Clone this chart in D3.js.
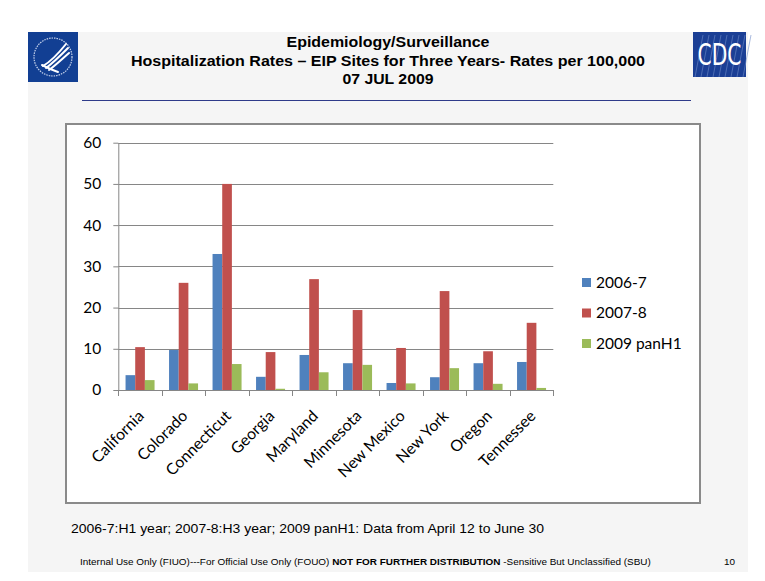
<!DOCTYPE html>
<html>
<head>
<meta charset="utf-8">
<script src="https://cdn.jsdelivr.net/npm/d3@7"></script>
<style>
  html, body { margin: 0; padding: 0; background: #ffffff; }
  svg { display: block; }
</style>
</head>
<body>
<svg id="chart" width="765" height="581"></svg>
<script>
// ---- data ----
const categories = ["California", "Colorado", "Connecticut", "Georgia", "Maryland",
                    "Minnesota", "New Mexico", "New York", "Oregon", "Tennessee"];
const seriesNames = ["2006-7", "2007-8", "2009 panH1"];
const values2006_7 = [3.6, 9.7, 33.0, 3.2, 8.5, 6.5, 1.7, 3.1, 6.5, 6.8];
const values2007_8 = [10.4, 26.0, 50.0, 9.2, 26.9, 19.4, 10.2, 24.0, 9.4, 16.3];
const values2009_panH1 = [2.4, 1.6, 6.3, 0.3, 4.3, 6.1, 1.6, 5.3, 1.5, 0.5];
const yTickValues = [0, 10, 20, 30, 40, 50, 60];
const titleLines = ["Epidemiology/Surveillance",
                    "Hospitalization Rates \u2013 EIP Sites for Three Years- Rates per 100,000",
                    "07 JUL 2009"];
const footnote = "2006-7:H1 year; 2007-8:H3 year; 2009 panH1: Data from April 12 to June 30";

const seriesValues = [values2006_7, values2007_8, values2009_panH1];
const colors = ["#4F81BD", "#C0504D", "#9BBB59"];

const svg = d3.select("#chart");

// ---- slide background ----
svg.append("rect").attr("x", 28).attr("y", 32).attr("width", 720).attr("height", 540)
  .attr("fill", "#f5f5f5");

// HHS logo (left)
const hhs = svg.append("g").attr("transform", "translate(28,32)");
hhs.append("rect").attr("width", 50).attr("height", 50).attr("fill", "#123f93");
hhs.append("circle").attr("cx", 25).attr("cy", 25).attr("r", 19)
  .attr("fill", "none").attr("stroke", "#c8d4ec").attr("stroke-width", 1.2)
  .attr("stroke-dasharray", "1.5,1");
const wing = ["M15,34 C22,30 30,22 38,12", "M18,36 C25,31 32,24 40,16", "M21,38 C28,33 34,27 41,21",
              "M14,33 C18,35 24,38 30,40"];
hhs.selectAll("path.w").data(wing).join("path").attr("d", d => d)
  .attr("fill", "none").attr("stroke", "#ffffff").attr("stroke-width", 2).attr("stroke-linecap", "round");

// CDC logo (right)
const cdc = svg.append("g").attr("transform", "translate(693,32)");
cdc.append("rect").attr("width", 53).attr("height", 45).attr("fill", "#1b3f95");
const rays = d3.range(0, 9);
cdc.selectAll("line.r").data(rays).join("line")
  .attr("x1", d => 2 + d * 6).attr("y1", 45)
  .attr("x2", d => 10 + d * 6).attr("y2", 3)
  .attr("stroke", "#6f8cc8").attr("stroke-width", 0.6);
cdc.append("text").attr("x", 26.5).attr("y", 33).attr("text-anchor", "middle")
  .attr("font-family", "'Liberation Sans Narrow', 'DejaVu Sans Condensed', sans-serif")
  .attr("font-size", 31).attr("fill", "#ffffff").attr("textLength", 44)
  .attr("lengthAdjust", "spacingAndGlyphs").text("CDC");

// Title
const titleWidths = [203, 514, 91];
const titleBase = [47, 66, 84];
svg.selectAll("text.title").data(titleLines).join("text").attr("class", "title")
  .attr("x", 388).attr("y", (d, i) => titleBase[i]).attr("text-anchor", "middle")
  .attr("font-family", "'Liberation Sans', Arial, sans-serif").attr("font-weight", "bold")
  .attr("font-size", 14).attr("fill", "#000")
  .attr("textLength", (d, i) => titleWidths[i]).attr("lengthAdjust", "spacingAndGlyphs")
  .text(d => d);

svg.append("line").attr("x1", 82).attr("x2", 691).attr("y1", 100.5).attr("y2", 100.5)
  .attr("stroke", "#2f3b8a").attr("stroke-width", 1.2);

// chart box
svg.append("rect").attr("x", 66).attr("y", 124).attr("width", 634).attr("height", 379)
  .attr("fill", "#ffffff").attr("stroke", "#8a8a8a").attr("stroke-width", 2);

// ---- plot ----
const x0 = 118.3, x1 = 553.3, yTop = 142.7, yBot = 390;
const x = d3.scaleBand().domain(categories).range([x0, x1]).paddingInner(0).paddingOuter(0);
const xs = d3.scaleBand().domain(seriesNames).range([0, x.bandwidth()]).paddingInner(0).paddingOuter(0.75);
const y = d3.scaleLinear().domain([0, 60]).range([yBot, yTop]);
const color = d3.scaleOrdinal().domain(seriesNames).range(colors);

const font = "Lato, 'Open Sans', sans-serif";

// gridlines
svg.append("g").selectAll("line").data(yTickValues.filter(v => v > 0)).join("line")
  .attr("x1", x0).attr("x2", x1).attr("y1", d => Math.round(y(d)) + 0.5).attr("y2", d => Math.round(y(d)) + 0.5)
  .attr("stroke", "#868686").attr("stroke-width", 1);

// bars
const barData = [];
categories.forEach((c, i) => seriesNames.forEach((s, j) => barData.push({ c, s, v: seriesValues[j][i] })));
svg.append("g").selectAll("rect").data(barData).join("rect")
  .attr("x", d => x(d.c) + xs(d.s)).attr("width", xs.bandwidth())
  .attr("y", d => y(d.v)).attr("height", d => y(0) - y(d.v))
  .attr("fill", d => color(d.s));

// y axis
const yAxis = d3.axisLeft(y).tickValues(yTickValues).tickSizeInner(5).tickSizeOuter(0).tickPadding(12);
const yg = svg.append("g").attr("transform", `translate(${x0},0)`).call(yAxis);
yg.select(".domain").attr("stroke", "#868686");
yg.selectAll(".tick line").attr("stroke", "#868686");
yg.selectAll(".tick text").attr("font-family", font).attr("font-size", 15.5).attr("fill", "#000");

// x axis line + boundary ticks
svg.append("line").attr("x1", x0).attr("x2", x1).attr("y1", yBot + 0.5).attr("y2", yBot + 0.5)
  .attr("stroke", "#868686");
const bounds = categories.map(c => x(c)).concat([x(categories[categories.length - 1]) + x.bandwidth()]);
svg.append("g").selectAll("line").data(bounds).join("line")
  .attr("x1", d => Math.round(d) + 0.5).attr("x2", d => Math.round(d) + 0.5)
  .attr("y1", yBot).attr("y2", yBot + 6).attr("stroke", "#868686");

// category labels
svg.append("g").selectAll("text").data(categories).join("text")
  .attr("transform", d => `translate(${x(d) + x.bandwidth() / 2 + 5},${417}) rotate(-45)`)
  .attr("text-anchor", "end").attr("font-family", font).attr("font-size", 15.8).attr("fill", "#000")
  .text(d => d);

// legend
const lg = svg.append("g").selectAll("g").data(seriesNames).join("g")
  .attr("transform", (d, i) => `translate(582,${278 + i * 30.5})`);
lg.append("rect").attr("width", 9).attr("height", 9).attr("fill", d => color(d));
lg.append("text").attr("x", 14).attr("y", 9.5).attr("font-family", font).attr("font-size", 15.5)
  .attr("fill", "#000").text(d => d);

// footnote
svg.append("text").attr("x", 71).attr("y", 533).attr("font-family", "'Liberation Sans', Arial, sans-serif")
  .attr("font-size", 13.5).attr("fill", "#000").attr("textLength", 473).attr("lengthAdjust", "spacingAndGlyphs")
  .text(footnote);

// footer
const ft = svg.append("text").attr("x", 80).attr("y", 565)
  .attr("font-family", "'Liberation Sans', Arial, sans-serif").attr("font-size", 9.95).attr("fill", "#000");
ft.append("tspan").text("Internal Use Only (FIUO)---For Official Use Only (FOUO) ");
ft.append("tspan").attr("font-weight", "bold").text("NOT FOR FURTHER DISTRIBUTION");
ft.append("tspan").text(" -Sensitive But Unclassified (SBU)");
svg.append("text").attr("x", 735).attr("y", 565).attr("text-anchor", "end")
  .attr("font-family", "'Liberation Sans', Arial, sans-serif").attr("font-size", 9.95).attr("fill", "#000")
  .text("10");
</script>
</body>
</html>
